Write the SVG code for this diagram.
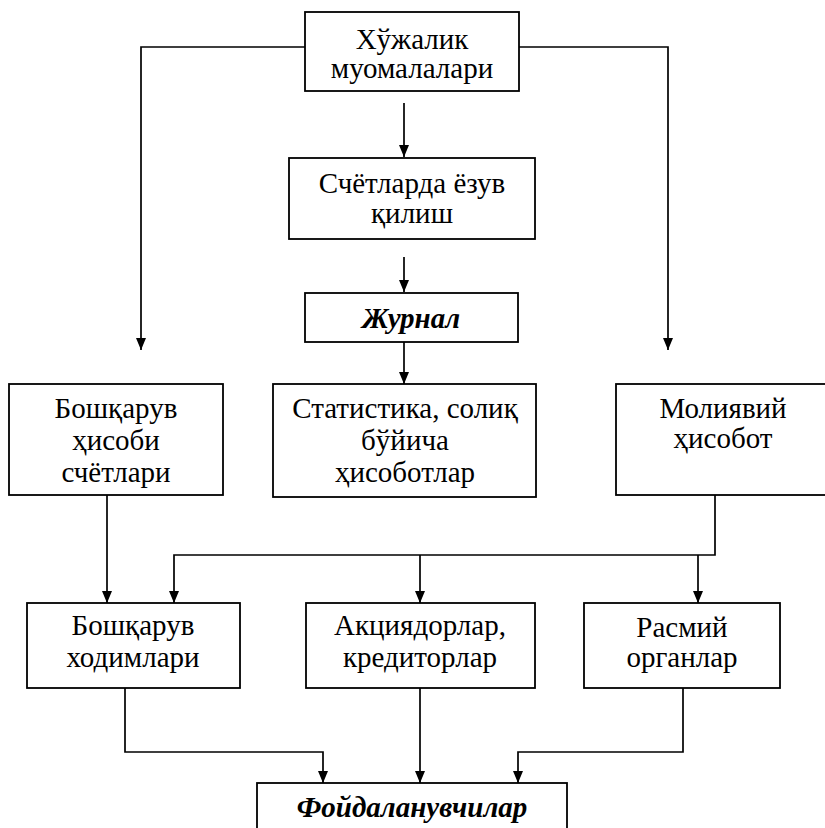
<svg xmlns="http://www.w3.org/2000/svg" width="825" height="828" viewBox="0 0 825 828">
<style>
.box{fill:#fff;stroke:#000;stroke-width:1.8}
.t{font-family:"Liberation Serif","Times New Roman",serif;font-size:29px;fill:#000;text-anchor:middle}
.bi{font-weight:bold;font-style:italic}
.c{fill:none;stroke:#000;stroke-width:1.7}
</style>
<defs>
<marker id="ah" markerUnits="userSpaceOnUse" markerWidth="12" markerHeight="10" viewBox="0 0 12 10" refX="12" refY="5" orient="auto">
<path d="M0,0 L12,5 L0,10 z" fill="#000"/>
</marker>
</defs>
<rect width="825" height="828" fill="#fff"/>
<g id="connectors">
<path class="c" d="M305,47 H141 V350" marker-end="url(#ah)"/>
<path class="c" d="M519,47 H668 V350" marker-end="url(#ah)"/>
<path class="c" d="M404,103 V157" marker-end="url(#ah)"/>
<path class="c" d="M404,257 V292" marker-end="url(#ah)"/>
<path class="c" d="M404,342 V384" marker-end="url(#ah)"/>
<path class="c" d="M107,495 V603" marker-end="url(#ah)"/>
<path class="c" d="M715,495 V555 H174 V603" marker-end="url(#ah)"/>
<path class="c" d="M420,555 V603" marker-end="url(#ah)"/>
<path class="c" d="M698,555 V603" marker-end="url(#ah)"/>
<path class="c" d="M125,688 V752 H323 V783" marker-end="url(#ah)"/>
<path class="c" d="M420,688 V783" marker-end="url(#ah)"/>
<path class="c" d="M683,688 V752 H518 V783" marker-end="url(#ah)"/>
</g>
<g id="n-xujalik">
<rect class="box" x="305" y="12" width="214" height="79"/>
<text class="t" x="412" y="49">Хўжалик</text>
<text class="t" x="412" y="78">муомалалари</text>
</g>
<g id="n-schetlarda">
<rect class="box" x="289" y="158" width="246" height="81"/>
<text class="t" x="412" y="193">Счётларда ёзув</text>
<text class="t" x="412" y="223">қилиш</text>
</g>
<g id="n-jurnal">
<rect class="box" x="305" y="293" width="213" height="49"/>
<text class="t bi" x="411" y="328">Журнал</text>
</g>
<g id="n-boshqaruv-hisobi">
<rect class="box" x="9" y="384" width="214" height="111"/>
<text class="t" x="116" y="418">Бошқарув</text>
<text class="t" x="116" y="450">ҳисоби</text>
<text class="t" x="116" y="482">счётлари</text>
</g>
<g id="n-statistika">
<rect class="box" x="273" y="384" width="263" height="113"/>
<text class="t" x="405" y="418">Статистика, солиқ</text>
<text class="t" x="405" y="450">бўйича</text>
<text class="t" x="405" y="482">ҳисоботлар</text>
</g>
<g id="n-moliyaviy">
<rect class="box" x="616" y="384" width="220" height="111"/>
<text class="t" x="723" y="418">Молиявий</text>
<text class="t" x="723" y="448">ҳисобот</text>
</g>
<g id="n-boshqaruv-xodimlari">
<rect class="box" x="27" y="603" width="213" height="85"/>
<text class="t" x="133" y="635">Бошқарув</text>
<text class="t" x="133" y="667">ходимлари</text>
</g>
<g id="n-aksiyadorlar">
<rect class="box" x="306" y="603" width="229" height="85"/>
<text class="t" x="420" y="635">Акциядорлар,</text>
<text class="t" x="420" y="667">кредиторлар</text>
</g>
<g id="n-rasmiy">
<rect class="box" x="584" y="603" width="196" height="85"/>
<text class="t" x="682" y="637">Расмий</text>
<text class="t" x="682" y="667">органлар</text>
</g>
<g id="n-foydalanuvchilar">
<rect class="box" x="257" y="783" width="310" height="60"/>
<text class="t bi" x="412" y="817">Фойдаланувчилар</text>
</g>
</svg>
